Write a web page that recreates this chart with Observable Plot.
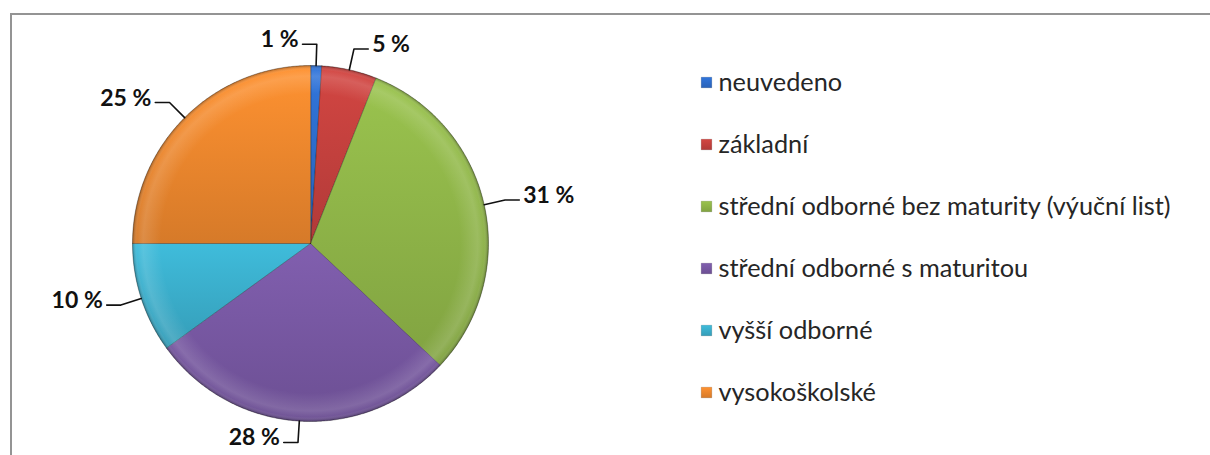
<!DOCTYPE html>
<html><head><meta charset="utf-8">
<script src="https://cdn.jsdelivr.net/npm/d3@7"></script>
<script src="https://cdn.jsdelivr.net/npm/@observablehq/plot@0.6"></script>
<style>
html,body{margin:0;padding:0;background:#fff;}
#wrap{position:relative;width:1210px;height:455px;overflow:hidden;}
#frame{position:absolute;left:10px;top:13px;width:1300px;height:600px;border-left:2px solid #949494;border-top:2px solid #949494;}
#pie,#legend{position:absolute;left:0;top:0;}
#defs{position:absolute;width:0;height:0;}
</style></head><body>
<svg id="defs" width="0" height="0"><defs></defs></svg>
<div id="wrap"><div id="frame"></div><div id="pie"></div><div id="legend"></div></div>
<script>
// ---- data ----
const categories = ["neuvedeno", "základní", "střední odborné bez maturity (výuční list)", "střední odborné s maturitou", "vyšší odborné", "vysokoškolské"];
const values = [1, 5, 31, 28, 10, 25];
const colors = ["#2e6fd0", "#c8423f", "#92b94a", "#7a5aa6", "#3cb2d0", "#f38a2e"];
const labelSuffix = " %";

// ---- gradient defs ----
const defs = d3.select("#defs defs");
const gradIds = colors.map((c, i) => {
  const g = defs.append("linearGradient").attr("id", "g" + i)
    .attr("x1", 0).attr("y1", 0).attr("x2", 0).attr("y2", 1);
  g.append("stop").attr("offset", "0%").attr("stop-color", d3.color(c).brighter(0.15).formatHex());
  g.append("stop").attr("offset", "100%").attr("stop-color", d3.color(c).darker(0.35).formatHex());
  return `url(#g${i})`;
});

// ---- geometry from data ----
const total = d3.sum(values);
let cum = 0;
const slices = categories.map((c, i) => {
  const a0 = cum / total * 2 * Math.PI; cum += values[i];
  const a1 = cum / total * 2 * Math.PI;
  return {c, i, v: values[i], a0, a1, mid: (a0 + a1) / 2};
});
const arcPts = slices.flatMap(s => {
  const n = Math.max(2, Math.ceil((s.a1 - s.a0) / (Math.PI / 360)));
  const pts = [{c: s.c, x: 0, y: 0}];
  for (let k = 0; k <= n; k++) {
    const a = s.a0 + (s.a1 - s.a0) * k / n;
    pts.push({c: s.c, x: Math.sin(a), y: Math.cos(a)});
  }
  return pts;
});
const leaderR = 1.12, leaderH = 0.08, gap = 0.022;
const leaders = [], labels = [];
slices.forEach(s => {
  const sx = Math.sin(s.mid), sy = Math.cos(s.mid);
  const side = sx > 0.05 ? 1 : -1;
  const bx = leaderR * sx, by = leaderR * sy;
  leaders.push({c: s.c, x: sx, y: sy}, {c: s.c, x: bx, y: by}, {c: s.c, x: bx + side * leaderH, y: by});
  labels.push({c: s.c, side, x: bx + side * (leaderH + gap), y: by, text: s.v + labelSuffix});
});

const W = 1210, H = 455;
const labelStyle = {x: "x", y: "y", text: "text", lineAnchor: "bottom", dy: 3, fontSize: 23, fontWeight: "bold", fontFamily: "Lato", fill: "#111"};
const pie = Plot.plot({
  width: W, height: H, margin: 0,
  style: {background: "transparent", overflow: "visible"},
  x: {domain: [-1, 1], range: [132, 488], axis: null},
  y: {domain: [-1, 1], range: [421, 65], axis: null},
  color: {domain: categories, range: gradIds},
  marks: [
    Plot.line(arcPts, {x: "x", y: "y", z: "c", fill: "c", stroke: "rgba(0,0,0,0.3)", strokeWidth: 1, curve: "linear-closed"}),
    Plot.line(arcPts, {x: "x", y: "y", z: "c", fill: "url(#bevel)", stroke: "none", curve: "linear-closed"}),
    Plot.line(leaders, {x: "x", y: "y", z: "c", stroke: "#111", strokeWidth: 1.6}),
    Plot.text(labels.filter(d => d.side > 0), {...labelStyle, textAnchor: "start"}),
    Plot.text(labels.filter(d => d.side < 0), {...labelStyle, textAnchor: "end"})
  ]
});
document.getElementById("pie").appendChild(pie);

// bevel radial gradient aligned to pie scales
const xs = pie.scale("x"), ys = pie.scale("y");
const cx = xs.apply(0), cy = ys.apply(0), r = xs.apply(1) - xs.apply(0);
const rg = defs.append("radialGradient").attr("id", "bevel").attr("gradientUnits", "userSpaceOnUse")
  .attr("cx", cx).attr("cy", cy).attr("r", r);
[[0, "#fff", 0], [0.84, "#fff", 0], [0.94, "#fff", 0.14], [0.975, "#fff", 0.04], [1, "#000", 0.3]]
  .forEach(([o, c, a]) => rg.append("stop").attr("offset", o).attr("stop-color", c).attr("stop-opacity", a));

// ---- legend ----
const legend = Plot.plot({
  width: W, height: H, margin: 0,
  style: {background: "transparent", overflow: "visible"},
  x: {domain: [0, 1], range: [706, 1200], axis: null},
  y: {type: "point", domain: categories, range: [80, 393], padding: 0, axis: null},
  color: {domain: categories, range: gradIds},
  marks: [
    Plot.dot(categories, {x: () => 0, y: d => d, symbol: "square", r: 6, fill: d => d, stroke: "rgba(0,0,0,0.25)", strokeWidth: 0.5}),
    Plot.text(categories, {x: () => 0, y: d => d, text: d => d, dx: 12, textAnchor: "start", fontSize: 25.3, fontFamily: "Lato", fill: "#262626"})
  ]
});
document.getElementById("legend").appendChild(legend);
</script>
</body></html>
